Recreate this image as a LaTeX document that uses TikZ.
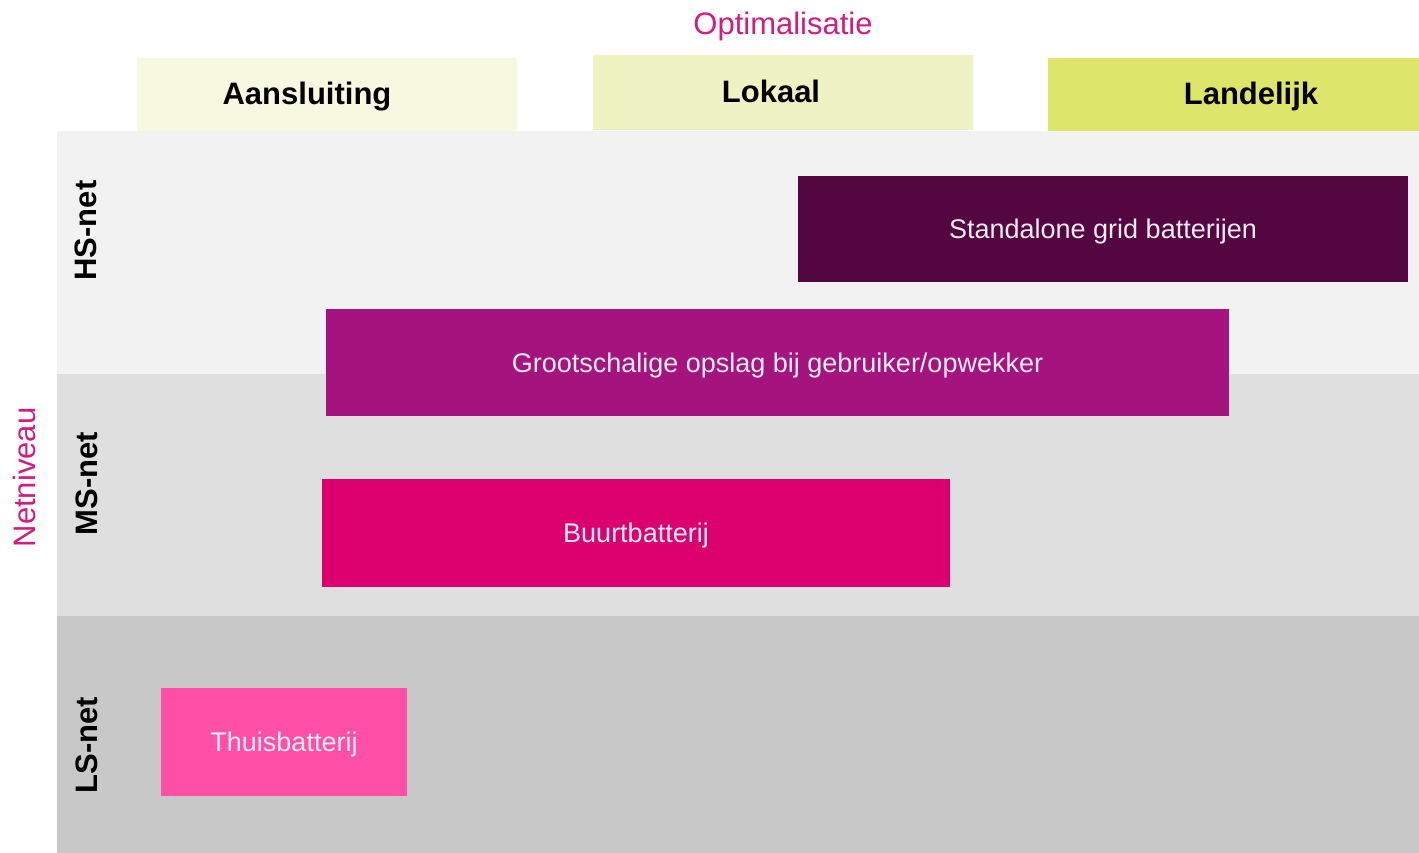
\documentclass[tikz,border=0pt]{standalone}
\usepackage{fontspec}
\setmainfont{Liberation Sans}
\definecolor{bandHS}{HTML}{F2F2F2}
\definecolor{bandMS}{HTML}{DFDFDF}
\definecolor{bandLS}{HTML}{C8C8C8}
\definecolor{hdrA}{HTML}{F6F8E0}
\definecolor{hdrB}{HTML}{EFF3C3}
\definecolor{hdrC}{HTML}{DDE56A}
\definecolor{accent}{HTML}{D31C80}
\definecolor{cSgb}{HTML}{530640}
\definecolor{cGro}{HTML}{A4137E}
\definecolor{cBuu}{HTML}{DC006F}
\definecolor{cThu}{HTML}{FF4FA7}
\definecolor{boxtext}{HTML}{F8ECF3}
\begin{document}
\begin{tikzpicture}[x=1pt,y=-1pt,
  area/.style={draw=none, inner sep=0pt, outer sep=0pt, anchor=north west},
  batt/.style={area, fill=#1, text=boxtext, font=\fontsize{27}{32}\selectfont,
    text height=19.3pt, text depth=0pt},
  hdrlabel/.style={anchor=base, inner sep=0pt, font=\fontsize{31}{36}\selectfont\bfseries},
  netlabel/.style={anchor=base, inner sep=0pt, rotate=90, font=\fontsize{31}{36}\selectfont\bfseries},
  axislabel/.style={anchor=base, inner sep=0pt, text=accent, font=\fontsize{31}{36}\selectfont}]
\useasboundingbox (0,0) rectangle (1419,853);
\fill[white] (0,0) rectangle (1419,853);
% header boxes
\node[area, fill=hdrA, minimum width=380pt, minimum height=73pt] (aan) at (137,58) {};
\node[area, fill=hdrB, minimum width=380pt, minimum height=75pt] (lok) at (593,55) {};
\node[area, fill=hdrC, minimum width=371pt, minimum height=73pt] (lan) at (1048,58) {};
% bands
\node[area, fill=bandHS, minimum width=1362pt, minimum height=243pt] (hs) at (57,131) {};
\node[area, fill=bandMS, minimum width=1362pt, minimum height=242pt] (ms) at (57,374) {};
\node[area, fill=bandLS, minimum width=1362pt, minimum height=237pt] (ls) at (57,616) {};
% header labels
\node[hdrlabel] (aanT) at (307,105) {Aansluiting};
\node[hdrlabel] (lokT) at (771,103) {Lokaal};
\node[hdrlabel] (lanT) at (1251,105) {Landelijk};
\node[axislabel] (opt) at (783,35) {Optimalisatie};
% net levels
\node[axislabel, rotate=90] (netn) at (35,477.5) {Netniveau};
\node[netlabel] (hsT) at (96,230.5) {HS-net};
\node[netlabel] (msT) at (97,483.5) {MS-net};
\node[netlabel] (lsT) at (97,745) {LS-net};
% battery boxes
\node[batt=cSgb, minimum width=610pt, minimum height=106pt] (sgb) at (798,176) {Standalone grid batterijen};
\node[batt=cGro, minimum width=903pt, minimum height=107pt] (gro) at (326,309) {Grootschalige opslag bij gebruiker/opwekker};
\node[batt=cBuu, minimum width=628pt, minimum height=108pt] (buu) at (322,479) {Buurtbatterij};
\node[batt=cThu, minimum width=246pt, minimum height=108pt] (thu) at (161,688) {Thuisbatterij};
\end{tikzpicture}
\end{document}
